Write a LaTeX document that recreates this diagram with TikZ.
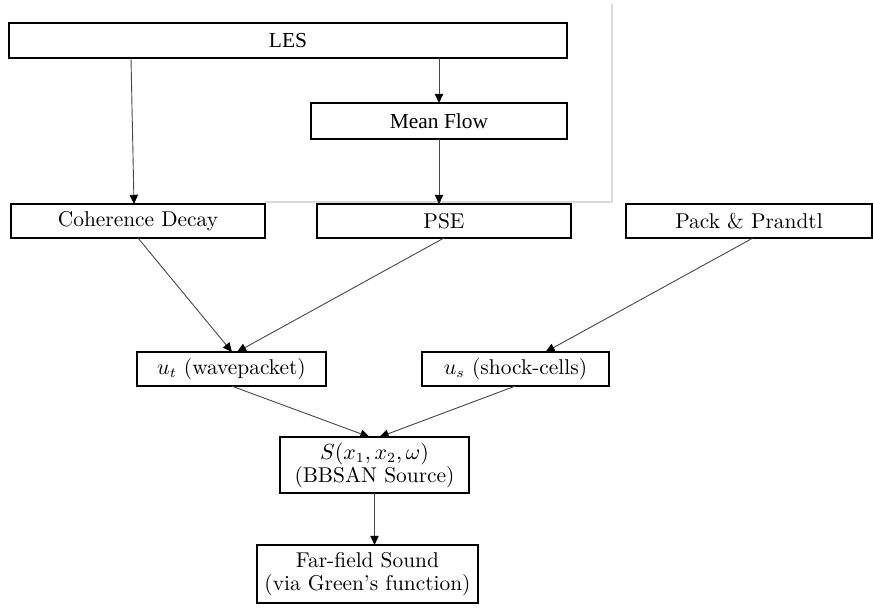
\documentclass[tikz,border=0pt]{standalone}
\usepackage{fontspec}
\newfontfamily\tnr{Liberation Serif}
\usetikzlibrary{arrows.meta,calc}
\begin{document}
\begin{tikzpicture}[x=0.5pt,y=-0.5pt,
  box/.style={draw=black,line width=0.75pt,inner sep=0pt,outer sep=0pt,align=center,
    font=\fontsize{10.7}{11.5}\selectfont},
  conn/.style={draw=black!72,line width=0.45pt,-{Triangle[length=4.6pt,width=4.2pt,color=black]}},
  frame/.style={draw=black!15,line width=0.6pt}]
\useasboundingbox (0,0) rectangle (873,608);
% faint frame of the pasted upper part
\coordinate (g1) at (612,4);
\coordinate (g2) at (612,202);
\coordinate (g3) at (265,202);
\draw[frame] (g1) -- (g2) -- (g3);
% nodes
\node[box,minimum width=279pt,minimum height=17.5pt,font=\fontsize{10.7}{11.5}\tnr] (les) at (288,40.5) {LES};
\node[box,minimum width=128pt,minimum height=18pt,font=\fontsize{10.7}{11.5}\tnr] (mf) at (439,121) {Mean Flow};
\node[box,minimum width=127pt,minimum height=17pt,fill=white] (coh) at (138,221) {Coherence Decay};
\node[box,minimum width=127pt,minimum height=17pt,fill=white] (pse) at (444,221) {PSE};
\node[box,minimum width=123pt,minimum height=17pt] (pack) at (749,221) {Pack \& Prandtl};
\node[box,minimum width=94.5pt,minimum height=17pt] (ut) at (231.5,369) {$u_t$ (wavepacket)};
\node[box,minimum width=93.5pt,minimum height=17pt] (us) at (515.5,369) {$u_s$ (shock-cells)};
\node[box,minimum width=94.5pt,minimum height=28pt] (s) at (374.5,465) {$S(x_1,x_2,\omega)$\\(BBSAN Source)};
\node[box,minimum width=110.5pt,minimum height=29pt] (far) at (367.5,574) {Far-field Sound\\(via Green's function)};
% connectors
\draw[conn] ($(les.south)+(-157,0)$) -- ($(coh.north)+(-4,0)$);
\draw[conn] (les.south -| mf.north) -- (mf.north);
\draw[conn] (mf.south) -- (mf.south |- pse.north);
\draw[conn] (coh.south) -- ($(ut.north)+(0.5,0)$);
\draw[conn] (pse.south) -- ($(ut.north)+(5.5,0)$);
\draw[conn] ($(pack.south)+(4,0)$) -- ($(us.north)+(30,0)$);
\draw[conn] (ut.south) -- ($(s.north)+(-5,0)$);
\draw[conn] (us.south) -- ($(s.north)+(5,0)$);
\draw[conn] (s.south) -- (s.south |- far.north);
\end{tikzpicture}
\end{document}
